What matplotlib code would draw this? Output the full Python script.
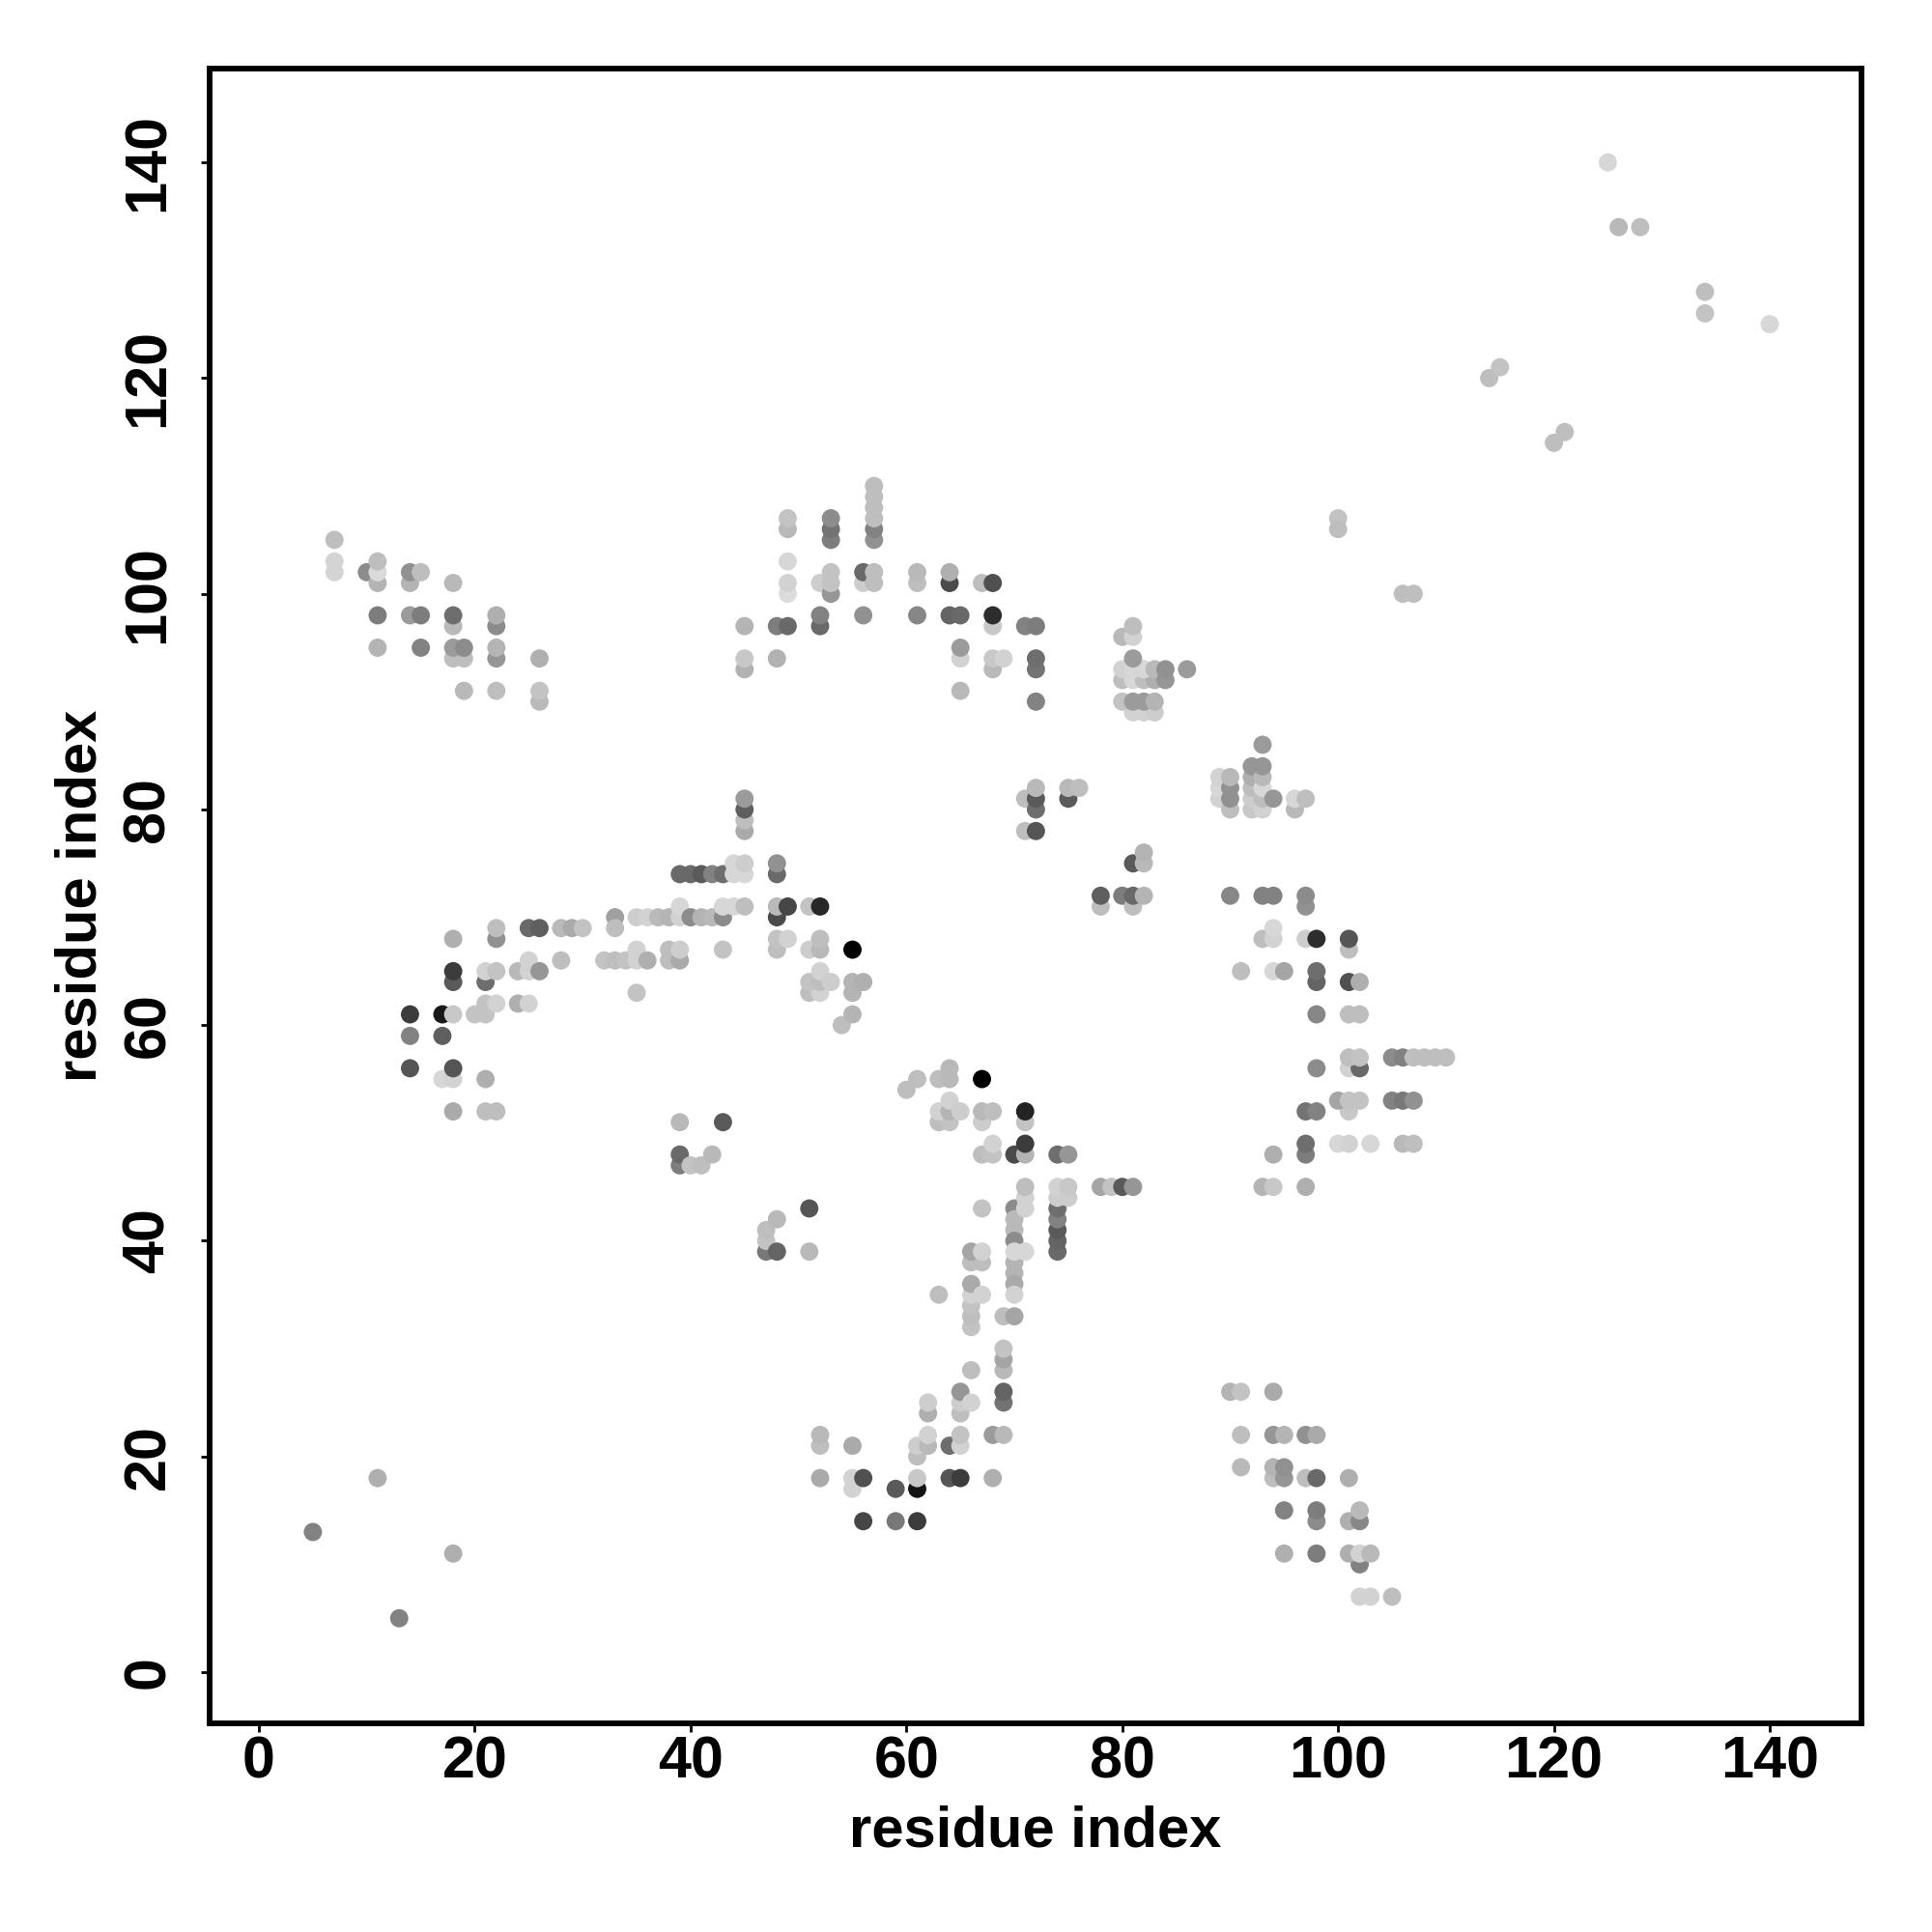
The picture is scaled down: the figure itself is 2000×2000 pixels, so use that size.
import matplotlib
matplotlib.use('Agg')
import matplotlib.pyplot as plt
import numpy as np

# (residue i, residue j, grey level 0-255), grouped by region of the map
outliers = [(5, 13, 130), (11, 18, 175), (13, 5, 130), (18, 11, 175),
            (125, 140, 215), (126, 134, 185), (128, 134, 190), (134, 128, 190), (134, 126, 195),
            (140, 125, 215), (114, 120, 190), (115, 121, 195), (120, 114, 190), (121, 115, 190),
            (100, 107, 195), (100, 106, 190), (106, 100, 190), (107, 100, 190)]

top_left = [(7, 105, 190), (7, 102, 212), (7, 103, 212), (10, 102, 140), (11, 101, 180), (11, 102, 218),
            (11, 103, 190), (14, 101, 180), (14, 102, 145), (15, 102, 190), (18, 101, 185),
            (11, 98, 125), (14, 98, 155), (15, 98, 125), (18, 97, 185), (18, 98, 110), (22, 97, 140),
            (22, 98, 175), (18, 94, 190), (19, 94, 190), (22, 94, 150), (26, 94, 175), (11, 95, 180),
            (15, 95, 130), (18, 95, 155), (19, 95, 140), (22, 95, 180), (19, 91, 185), (22, 91, 190),
            (26, 90, 185), (26, 91, 195)]

top_mid = [(45, 93, 178), (45, 94, 200), (45, 97, 180), (48, 94, 178), (48, 97, 125), (49, 97, 105),
           (49, 106, 185), (49, 107, 195), (49, 103, 215), (49, 100, 220), (49, 101, 210), (52, 97, 105),
           (52, 98, 130), (52, 101, 205), (53, 105, 125), (53, 106, 115), (53, 107, 140), (53, 100, 150),
           (53, 101, 195), (53, 102, 195), (56, 98, 145), (56, 101, 205), (56, 102, 105),
           (57, 105, 145), (57, 106, 130), (57, 107, 190), (57, 108, 190), (57, 109, 190), (57, 110, 190),
           (57, 101, 190), (57, 102, 190)]

top_right = [(61, 101, 190), (61, 102, 185), (61, 98, 135), (64, 101, 75), (64, 102, 175), (64, 98, 100),
             (65, 98, 105), (65, 94, 210), (65, 95, 155), (65, 91, 185), (67, 101, 190), (68, 101, 80),
             (68, 97, 200), (68, 98, 45), (68, 93, 185), (68, 94, 200), (69, 94, 210), (71, 97, 130),
             (72, 97, 125), (72, 93, 115), (72, 94, 110), (72, 90, 130), (71, 81, 190), (71, 78, 190),
             (72, 80, 110), (72, 81, 90), (72, 82, 185), (72, 78, 85), (75, 81, 90), (75, 82, 185), (76, 82, 190)]

cluster_80 = [(80, 96, 185), (81, 96, 210), (81, 97, 190), (80, 92, 190), (81, 92, 215),
              (82, 92, 190), (83, 92, 175), (80, 93, 210), (81, 93, 215), (82, 93, 215), (83, 93, 185),
              (84, 92, 150), (84, 93, 145), (81, 94, 155), (86, 93, 155), (81, 89, 210), (82, 89, 210), (83, 89, 205),
              (80, 90, 195), (81, 90, 155), (82, 90, 155), (83, 90, 180), (81, 75, 90), (82, 75, 185), (82, 76, 180)]

cluster_90 = [(89, 81, 210), (89, 82, 215), (89, 83, 210), (90, 80, 190), (90, 81, 145), (90, 82, 145),
              (90, 83, 185), (92, 80, 200), (92, 81, 205), (92, 82, 190), (92, 83, 175), (92, 84, 150),
              (93, 80, 210), (93, 81, 190), (93, 82, 215), (93, 83, 185), (93, 84, 150), (93, 86, 155),
              (94, 81, 150), (96, 80, 185), (96, 81, 215), (97, 81, 190)]

right_side = [(78, 71, 190), (78, 72, 95), (80, 72, 125), (81, 71, 190), (81, 72, 105), (82, 72, 180),
              (90, 72, 135), (93, 72, 130), (94, 72, 130), (97, 71, 145), (97, 72, 140),
              (93, 68, 190), (94, 68, 210), (94, 69, 215), (97, 68, 205), (98, 68, 45), (101, 67, 190),
              (101, 68, 85), (91, 65, 190), (94, 65, 215), (95, 65, 165), (98, 64, 100), (98, 65, 110),
              (101, 64, 80), (102, 64, 175), (98, 61, 135), (101, 61, 190), (102, 61, 190),
              (101, 56, 210), (102, 56, 105), (101, 57, 190), (102, 57, 195), (98, 56, 140),
              (105, 57, 140), (106, 57, 130), (107, 57, 190), (108, 57, 190), (109, 57, 190), (110, 57, 190),
              (101, 52, 200), (100, 53, 165), (101, 53, 195), (102, 53, 195), (105, 53, 130), (106, 53, 120),
              (107, 53, 145), (97, 52, 115), (98, 52, 130), (100, 49, 215), (101, 49, 210), (103, 49, 215),
              (106, 49, 185), (107, 49, 190), (97, 48, 125), (97, 49, 110), (94, 48, 175),
              (93, 45, 180), (94, 45, 200), (97, 45, 175), (78, 45, 165), (79, 45, 195), (80, 45, 90), (81, 45, 150)]

middle_band = [(45, 78, 170), (45, 79, 190), (45, 80, 95), (45, 81, 155),
               (39, 74, 105), (40, 74, 105), (41, 74, 90), (42, 74, 130), (43, 74, 110), (44, 74, 215),
               (45, 74, 215), (44, 75, 215), (45, 75, 205), (48, 74, 105), (48, 75, 145),
               (33, 70, 160), (35, 70, 205), (36, 70, 210), (37, 70, 185), (38, 70, 180), (39, 70, 210),
               (39, 71, 215), (40, 70, 140), (41, 70, 180), (42, 70, 185), (43, 70, 140), (43, 71, 215),
               (44, 71, 215), (45, 71, 190), (48, 70, 75), (48, 71, 185), (49, 71, 70), (51, 71, 195), (52, 71, 40),
               (22, 68, 145), (22, 69, 190), (25, 69, 105), (26, 69, 95), (28, 69, 185), (29, 69, 170), (30, 69, 195),
               (33, 69, 190), (18, 68, 175), (48, 67, 190), (48, 68, 195), (49, 68, 210), (51, 67, 205),
               (52, 67, 185), (52, 68, 190), (55, 67, 0), (28, 66, 190), (32, 66, 195), (33, 66, 190), (34, 66, 195),
               (35, 66, 210), (35, 67, 210), (36, 66, 175), (38, 66, 190), (38, 67, 190), (39, 66, 170), (39, 67, 205),
               (43, 67, 195), (18, 64, 90), (18, 65, 60), (21, 64, 110), (21, 65, 210), (22, 65, 195), (24, 65, 185),
               (25, 66, 210), (25, 65, 210), (26, 65, 150), (51, 63, 190), (52, 63, 210), (51, 64, 195), (52, 64, 190),
               (52, 65, 210), (53, 64, 205), (55, 63, 180), (55, 64, 180), (56, 64, 175), (35, 63, 195),
               (20, 61, 195), (21, 61, 195), (21, 62, 195), (22, 62, 210), (24, 62, 175), (25, 62, 210),
               (14, 61, 60), (17, 61, 25), (18, 61, 200), (54, 60, 190), (55, 61, 180),
               (14, 59, 130), (17, 59, 95), (14, 56, 85), (17, 55, 215), (18, 55, 210), (18, 56, 85), (21, 55, 175),
               (18, 52, 170), (21, 52, 190), (22, 52, 190)]

lower_left = [(39, 51, 185), (43, 51, 90), (39, 47, 125), (39, 48, 105), (40, 47, 195), (41, 47, 190), (42, 48, 185),
              (47, 39, 120), (47, 40, 195), (47, 41, 190), (48, 39, 100), (48, 42, 185), (51, 43, 85), (51, 39, 185)]

stem_60 = [(60, 54, 190), (61, 55, 190), (63, 55, 190), (64, 55, 185), (64, 56, 185), (67, 55, 0),
           (63, 51, 190), (64, 51, 195), (63, 52, 210), (64, 52, 180), (64, 53, 210), (65, 52, 205),
           (67, 51, 205), (67, 52, 185), (68, 52, 190), (71, 51, 195), (71, 52, 35), (67, 48, 190), (68, 48, 195),
           (68, 49, 210), (70, 48, 75), (71, 48, 180), (71, 49, 60), (74, 48, 110), (75, 48, 150),
           (70, 43, 140), (70, 42, 185), (70, 41, 185), (70, 40, 140), (70, 38, 180), (70, 37, 180), (70, 36, 170),
           (70, 35, 210), (70, 39, 215), (71, 39, 215), (71, 43, 210), (71, 44, 210), (71, 45, 190),
           (74, 39, 105), (74, 40, 100), (74, 41, 90), (74, 42, 130), (74, 43, 110), (74, 44, 205), (74, 45, 210),
           (75, 44, 205), (75, 45, 200), (67, 43, 195), (66, 38, 190), (67, 38, 190), (66, 39, 165), (67, 39, 210),
           (66, 32, 195), (66, 33, 190), (66, 34, 195), (66, 35, 210), (66, 36, 170), (67, 35, 210), (63, 35, 190),
           (69, 33, 190), (70, 33, 165), (69, 28, 185), (69, 29, 165), (69, 30, 195), (66, 28, 190)]

lower_stem = [(69, 25, 115), (69, 26, 100), (65, 24, 190), (65, 25, 205), (65, 26, 150), (66, 25, 210),
              (62, 24, 175), (62, 25, 205), (52, 21, 190), (52, 22, 185), (55, 21, 170), (61, 20, 190),
              (61, 21, 205), (62, 21, 185), (62, 22, 210), (64, 21, 110), (65, 21, 210), (65, 22, 195),
              (68, 22, 155), (69, 22, 185), (52, 18, 170), (55, 17, 210), (55, 18, 210), (56, 18, 80),
              (59, 17, 90), (61, 17, 20), (61, 18, 200), (64, 18, 85), (65, 18, 60), (68, 18, 175),
              (56, 14, 70), (59, 14, 120), (61, 14, 60)]

lower_right = [(90, 26, 180), (91, 26, 195), (94, 26, 170), (91, 22, 190), (94, 22, 150), (95, 22, 180),
               (97, 22, 145), (98, 22, 170), (91, 19, 185), (94, 18, 190), (94, 19, 180), (95, 18, 150),
               (95, 19, 145), (97, 18, 190), (98, 18, 105), (101, 18, 175), (95, 15, 130), (98, 14, 140),
               (98, 15, 125), (101, 14, 175), (102, 14, 135), (102, 15, 185), (95, 11, 175), (98, 11, 125),
               (102, 10, 130), (101, 11, 175), (102, 11, 210), (103, 11, 185), (102, 7, 210), (103, 7, 210), (105, 7, 190)]

regions = [outliers, top_left, top_mid, top_right, cluster_80, cluster_90, right_side,
           middle_band, lower_left, stem_60, lower_stem, lower_right]

tick_values = [0, 20, 40, 60, 80, 100, 120, 140]

plt.rcParams['font.family'] = ['Liberation Sans', 'DejaVu Sans']
plt.rcParams['font.weight'] = 'bold'

fig = plt.figure(figsize=(20, 20), dpi=100)
ax = fig.add_axes([217 / 2000, 1 - 1783.5 / 2000, 1710 / 2000, 1712.5 / 2000])

for region in regions:
    pts = np.array(region)
    colors = [str(g / 255) for g in pts[:, 2]]
    ax.scatter(pts[:, 0], pts[:, 1], s=185, c=colors, linewidths=0, zorder=2)

ax.set_xlim(-4.57, 148.5)
ax.set_ylim(-4.70, 148.7)
ax.set_xticks(tick_values)
ax.set_yticks(tick_values)
ax.tick_params(axis='both', length=6.5, width=2, labelsize=44)
ax.tick_params(axis='x', pad=3)
ax.tick_params(axis='y', pad=18)
for lab in ax.get_yticklabels():
    lab.set_rotation(90)
    lab.set_va('center')
for side in ax.spines.values():
    side.set_linewidth(4.2)

ax.set_xlabel('residue index', fontsize=43, fontweight='bold', labelpad=11)
ax.set_ylabel('residue index', fontsize=43, fontweight='bold', labelpad=10.5)

plt.savefig('out.png', dpi=100)
